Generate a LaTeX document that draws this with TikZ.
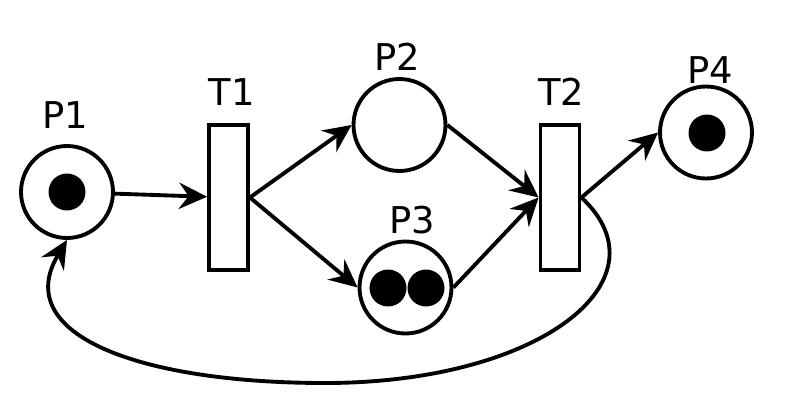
\documentclass[tikz,border=0pt]{standalone}
\usepackage{fontspec}
\setmainfont{DejaVu Sans}
\usetikzlibrary{arrows.meta}

\begin{document}
\begin{tikzpicture}[x=0.02cm,y=-0.02cm,line width=2.2pt,
  >={Stealth[length=16pt,width=15pt,inset=5.5pt]},
  place/.style={draw,circle,minimum size=1.84cm,inner sep=0},
  trans/.style={draw,rectangle,minimum width=0.78cm,minimum height=2.9cm,inner sep=0},
  token/.style={fill,circle,minimum size=0.74cm,inner sep=0},
  lbl/.style={anchor=base,inner sep=0,font=\fontsize{21}{25}\selectfont}]
\useasboundingbox (0,0) rectangle (791,419);
\node[place] (p1) at (67,192) {};
\node[place] (p2) at (399.5,125) {};
\node[place] (p3) at (405.5,287.5) {};
\node[place] (p4) at (706,132.5) {};
\node[trans] (t1) at (228.5,197.5) {};
\node[trans] (t2) at (560,197.5) {};
\node[token] (k1) at (p1) {};
\node[token] (k2) at (388,288) {};
\node[token] (k3) at (426,288) {};
\node[token] (k4) at (707,133) {};
\node[lbl] (lp1) at (65,128) {P1};
\node[lbl] (lt1) at (232,105) {T1};
\node[lbl] (lp2) at (397,70) {P2};
\node[lbl] (lp3) at (412,233) {P3};
\node[lbl] (lt2) at (561,105) {T2};
\node[lbl] (lp4) at (710,83) {P4};
\draw [->] (p1) -- (t1);
\draw [->] (t1.east) -- (p2.west);
\draw [->] (t1.east) -- (p3.west);
\draw [->] (p2.east) -- (t2.west);
\draw [->] (p3.east) -- (t2.west);
\draw [->] (t2.east) -- (p4.west);
\draw [->] (t2.east) .. controls (670,280) and (540,383) .. (325,383)
  .. controls (140,383) and (10,335) .. (p1.south);
\end{tikzpicture}
\end{document}
